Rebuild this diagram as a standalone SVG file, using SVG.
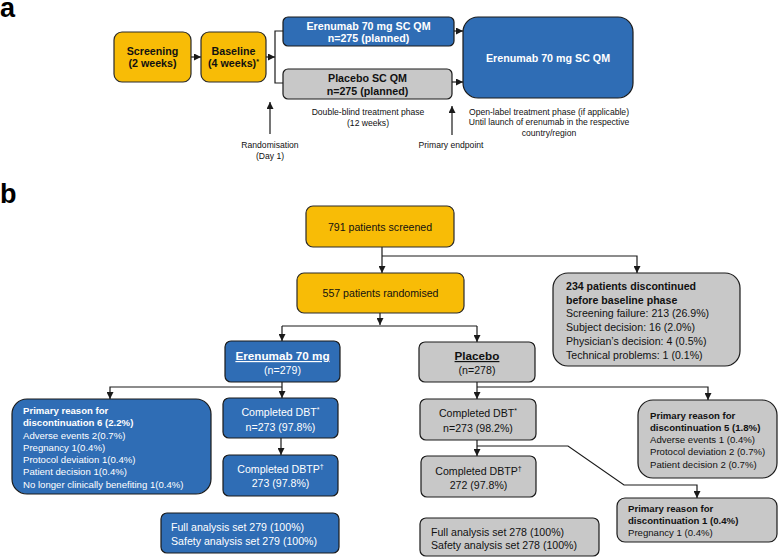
<svg xmlns="http://www.w3.org/2000/svg" width="778" height="558" viewBox="0 0 778 558">
<defs>
<marker id="ah" markerUnits="userSpaceOnUse" markerWidth="7" markerHeight="7" refX="7" refY="3.5" orient="auto">
<path d="M0,0 L7,3.5 L0,7 z" fill="#1a1a1a"/>
</marker>
<style>
.y{fill:#F8BC06;stroke:#2a2a2a;stroke-width:1.2}
.bl{fill:#2F6DB5;stroke:#1a1a1a;stroke-width:1.2}
.g{fill:#C8C8C8;stroke:#1a1a1a;stroke-width:1.2}
text{font-family:"Liberation Sans",Arial,sans-serif}
.ba{font-size:10.7px;font-weight:bold;text-anchor:middle;fill:#111}
.baw{font-size:10.7px;font-weight:bold;text-anchor:middle;fill:#fff}
.sm{font-size:8.6px;text-anchor:middle;fill:#111}
.t{font-size:10.6px;fill:#111}
.tc{font-size:10.6px;fill:#111;text-anchor:middle}
.tw{font-size:10.6px;fill:#fff}
.twc{font-size:10.6px;fill:#fff;text-anchor:middle}
.h{font-size:11.7px;font-weight:bold;text-anchor:middle;text-decoration:underline}
.r{font-size:9.6px}
.rb{font-size:9.6px;font-weight:bold}
.lab{font-size:27px;font-weight:bold;fill:#000}
.c{fill:none;stroke:#1a1a1a;stroke-width:1.2}
</style>
</defs>

<text class="lab" x="0" y="17">a</text>
<text class="lab" x="0" y="203">b</text>

<g id="connectors">
<line class="c" x1="191" y1="57" x2="201" y2="57" marker-end="url(#ah)"/>
<line class="c" x1="266" y1="57" x2="275" y2="57" marker-end="url(#ah)"/>
<path class="c" d="M283,31 H275 V83 H283"/>
<line class="c" x1="454" y1="31" x2="463" y2="31" marker-end="url(#ah)"/>
<line class="c" x1="452" y1="82" x2="463" y2="82" marker-end="url(#ah)"/>
<line class="c" x1="270" y1="134" x2="270" y2="102" marker-end="url(#ah)"/>
<line class="c" x1="452" y1="135" x2="452" y2="106" marker-end="url(#ah)"/>

<line class="c" x1="382" y1="247" x2="382" y2="273" marker-end="url(#ah)"/>
<path class="c" d="M382,256 H637 V273" marker-end="url(#ah)"/>
<line class="c" x1="380" y1="313" x2="380" y2="325" marker-end="url(#ah)"/>
<path class="c" d="M282,326 H477"/>
<line class="c" x1="282" y1="326" x2="282" y2="341" marker-end="url(#ah)"/>
<line class="c" x1="477" y1="326" x2="477" y2="342" marker-end="url(#ah)"/>

<line class="c" x1="282" y1="382" x2="282" y2="398" marker-end="url(#ah)"/>
<path class="c" d="M282,387 H110 V399" marker-end="url(#ah)"/>
<line class="c" x1="281" y1="438" x2="281" y2="455" marker-end="url(#ah)"/>

<line class="c" x1="477" y1="382" x2="477" y2="399" marker-end="url(#ah)"/>
<path class="c" d="M477,387 H708 V400" marker-end="url(#ah)"/>
<line class="c" x1="477" y1="440" x2="477" y2="456" marker-end="url(#ah)"/>
<path class="c" d="M477,446 H568 L624,485 H697 V498" marker-end="url(#ah)"/>
</g>

<g id="screening">
<rect class="y" x="114" y="32" width="77" height="50" rx="8"/>
<text class="ba" x="152.5" y="55">Screening</text>
<text class="ba" x="152.5" y="67">(2 weeks)</text>
</g>
<g id="baseline">
<rect class="y" x="201" y="32" width="65" height="50" rx="8"/>
<text class="ba" x="233.5" y="55">Baseline</text>
<text class="ba" x="233.5" y="67">(4 weeks)<tspan font-size="7" dy="-3">*</tspan></text>
</g>
<g id="erenumab-arm">
<rect class="bl" x="283" y="17" width="171" height="29" rx="5"/>
<text class="baw" x="368.5" y="30">Erenumab 70 mg SC QM</text>
<text class="baw" x="368.5" y="42">n=275 (planned)</text>
</g>
<g id="placebo-arm">
<rect class="g" x="283" y="69" width="169" height="30" rx="5"/>
<text class="ba" x="367.5" y="82">Placebo SC QM</text>
<text class="ba" x="367.5" y="95">n=275 (planned)</text>
</g>
<g id="open-label">
<rect class="bl" x="463" y="17" width="170" height="81" rx="15"/>
<text class="baw" x="548" y="62">Erenumab 70 mg SC QM</text>
</g>
<g id="labels-a">
<text class="sm" x="368" y="115">Double-blind treatment phase</text>
<text class="sm" x="368" y="126">(12 weeks)</text>
<text class="sm" x="270" y="148">Randomisation</text>
<text class="sm" x="270" y="159">(Day 1)</text>
<text class="sm" x="451" y="148">Primary endpoint</text>
<text class="sm" x="549" y="115">Open-label treatment phase (if applicable)</text>
<text class="sm" x="549" y="125">Until launch of erenumab in the respective</text>
<text class="sm" x="549" y="136">country/region</text>
</g>

<g id="screened">
<rect class="y" x="306" y="206" width="148" height="41" rx="7"/>
<text class="tc" x="380" y="231">791 patients screened</text>
</g>
<g id="randomised">
<rect class="y" x="297" y="273" width="167" height="40" rx="7"/>
<text class="tc" x="380.5" y="297">557 patients randomised</text>
</g>
<g id="discontinued-before">
<rect class="g" x="553" y="273" width="187" height="93" rx="15"/>
<text class="t" x="566" y="290" font-weight="bold">234 patients discontinued</text>
<text class="t" x="566" y="304" font-weight="bold">before baseline phase</text>
<text class="t" x="566" y="317">Screening failure: 213 (26.9%)</text>
<text class="t" x="566" y="331">Subject decision: 16 (2.0%)</text>
<text class="t" x="566" y="345">Physician’s decision: 4 (0.5%)</text>
<text class="t" x="566" y="359">Technical problems: 1 (0.1%)</text>
</g>

<g id="erenumab-70">
<rect class="bl" x="225" y="341" width="115" height="41" rx="6"/>
<text class="h" x="282.5" y="360" fill="#fff">Erenumab 70 mg</text>
<text class="twc" x="282.5" y="374">(n=279)</text>
</g>
<g id="placebo">
<rect class="g" x="419" y="342" width="116" height="40" rx="6"/>
<text class="h" x="477" y="360" fill="#111">Placebo</text>
<text class="tc" x="477" y="374">(n=278)</text>
</g>

<g id="erenumab-disc">
<rect class="bl" x="12" y="399" width="199" height="95" rx="15"/>
<text class="rb" x="23" y="414" fill="#fff">Primary reason for</text>
<text class="rb" x="23" y="426.3" fill="#fff">discontinuation 6 (2.2%)</text>
<text class="r" x="23" y="438.5" fill="#fff">Adverse events 2(0.7%)</text>
<text class="r" x="23" y="450.8" fill="#fff">Pregnancy 1(0.4%)</text>
<text class="r" x="23" y="463" fill="#fff">Protocol deviation 1(0.4%)</text>
<text class="r" x="23" y="475.3" fill="#fff">Patient decision 1(0.4%)</text>
<text class="r" x="23" y="487.5" fill="#fff">No longer clinically benefiting 1(0.4%)</text>
</g>
<g id="erenumab-dbt">
<rect class="bl" x="223" y="398" width="115" height="40" rx="6"/>
<text class="twc" x="280.5" y="416">Completed DBT<tspan font-size="7" dy="-4">*</tspan></text>
<text class="twc" x="280.5" y="431">n=273 (97.8%)</text>
</g>
<g id="erenumab-dbtp">
<rect class="bl" x="223" y="455" width="115" height="41" rx="6"/>
<text class="twc" x="280.5" y="473">Completed DBTP<tspan font-size="7" dy="-4">†</tspan></text>
<text class="twc" x="280.5" y="487">273 (97.8%)</text>
</g>
<g id="erenumab-fas">
<rect class="bl" x="161" y="513" width="178" height="40" rx="6"/>
<text class="tw" x="171" y="531">Full analysis set 279 (100%)</text>
<text class="tw" x="171" y="545">Safety analysis set 279 (100%)</text>
</g>

<g id="placebo-dbt">
<rect class="g" x="420" y="399" width="116" height="41" rx="6"/>
<text class="tc" x="478" y="417">Completed DBT<tspan font-size="7" dy="-4">*</tspan></text>
<text class="tc" x="478" y="432">n=273 (98.2%)</text>
</g>
<g id="placebo-dbtp">
<rect class="g" x="421" y="456" width="115" height="41" rx="6"/>
<text class="tc" x="478.5" y="475">Completed DBTP<tspan font-size="7" dy="-4">†</tspan></text>
<text class="tc" x="478.5" y="489">272 (97.8%)</text>
</g>
<g id="placebo-disc">
<rect class="g" x="638" y="400" width="139" height="78" rx="15"/>
<text class="rb" x="650" y="418.5" fill="#111">Primary reason for</text>
<text class="rb" x="650" y="430.8" fill="#111">discontinuation 5 (1.8%)</text>
<text class="r" x="650" y="443" fill="#111">Adverse events 1 (0.4%)</text>
<text class="r" x="650" y="455.3" fill="#111">Protocol deviation 2 (0.7%)</text>
<text class="r" x="650" y="467.5" fill="#111">Patient decision 2 (0.7%)</text>
</g>
<g id="placebo-disc2">
<rect class="g" x="617" y="498" width="160" height="44" rx="8"/>
<text class="rb" x="628" y="511.5" fill="#111">Primary reason for</text>
<text class="rb" x="628" y="524" fill="#111">discontinuation 1 (0.4%)</text>
<text class="r" x="628" y="536" fill="#111">Pregnancy 1 (0.4%)</text>
</g>
<g id="placebo-fas">
<rect class="g" x="420" y="518" width="179" height="38" rx="6"/>
<text class="t" x="431" y="536">Full analysis set 278 (100%)</text>
<text class="t" x="431" y="549">Safety analysis set 278 (100%)</text>
</g>
</svg>
